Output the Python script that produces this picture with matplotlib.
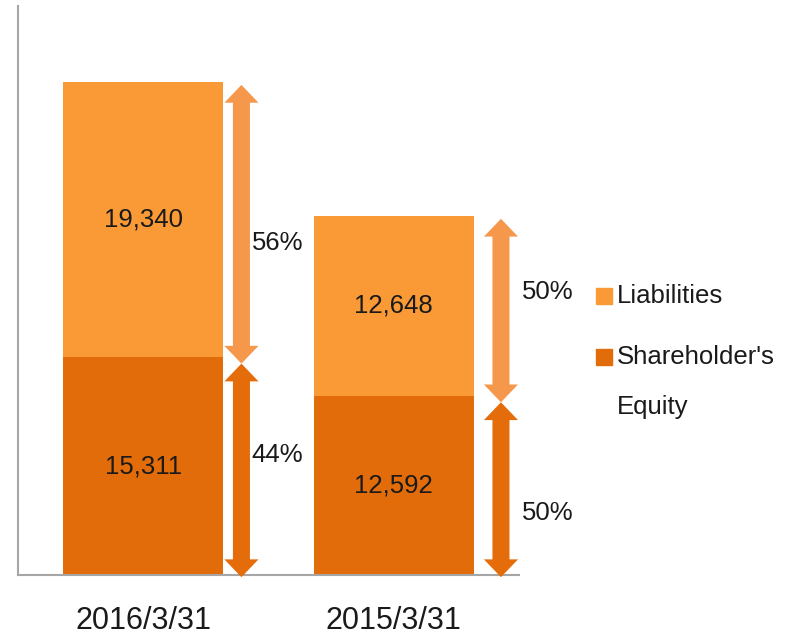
import matplotlib
matplotlib.use("Agg")
import matplotlib.pyplot as plt
import matplotlib.patches as mpatches

plt.rcParams['font.family'] = ['Liberation Sans', 'DejaVu Sans']

# data
dates = ['2016/3/31', '2015/3/31']
equity = [15311, 12592]
liabilities = [19340, 12648]
pct_liab = ['56%', '50%']
pct_equity = ['44%', '50%']

# colours
c_liab = '#FA9A36'
c_equity = '#E36C0A'
c_arrow_liab = '#F5984C'
c_arrow_equity = '#E46C0A'

fig = plt.figure(figsize=(7.92, 6.37), dpi=100)
ax = fig.add_axes([0.0227, 0.0973, 0.6326, 0.8933])

x = range(len(dates))
ax.bar(x, equity, width=0.64, color=c_equity)
ax.bar(x, liabilities, width=0.64, bottom=equity, color=c_liab)

# value labels in the middle of each segment
for i in x:
    ax.text(i, equity[i] / 2, f'{equity[i]:,}', ha='center', va='center',
            fontsize=18.5, color='#1a1a1a')
    ax.text(i, equity[i] + liabilities[i] / 2, f'{liabilities[i]:,}',
            ha='center', va='center', fontsize=18.5, color='#1a1a1a')

# double headed arrows next to each bar
arrow_x = [0.392, 1.428]
label_x = [0.536, 1.616]
liab_frac = [0.415, 0.58]
equity_frac = [0.55, 0.346]
shaft_w = 0.068
head_w = 0.136
head_l = 1250


def double_arrow(xc, y0, y1, color):
    # one polygon, heads at both ends
    s, h = shaft_w / 2, head_w / 2
    pts = [(xc, y1), (xc + h, y1 - head_l), (xc + s, y1 - head_l),
           (xc + s, y0 + head_l), (xc + h, y0 + head_l), (xc, y0),
           (xc - h, y0 + head_l), (xc - s, y0 + head_l),
           (xc - s, y1 - head_l), (xc - h, y1 - head_l)]
    ax.add_patch(mpatches.Polygon(pts, closed=True, color=color, lw=0,
                                  zorder=3, clip_on=False))


for i in x:
    total = equity[i] + liabilities[i]
    double_arrow(arrow_x[i], equity[i] - 450, total - 200, c_arrow_liab)
    double_arrow(arrow_x[i], -150, equity[i] - 450, c_arrow_equity)
    ax.text(label_x[i], equity[i] + liabilities[i] * liab_frac[i], pct_liab[i],
            ha='center', va='center', fontsize=18.5, color='#1a1a1a')
    ax.text(label_x[i], equity[i] * equity_frac[i], pct_equity[i],
            ha='center', va='center', fontsize=18.5, color='#1a1a1a')

ax.set_xlim(-0.5, 1.5)
ax.set_ylim(0, 40000)
ax.set_xticks(list(x))
ax.set_xticklabels(dates, fontsize=22, color='#1a1a1a')
ax.tick_params(axis='x', length=0, pad=22)
ax.set_yticks([])
for s in ['top', 'right']:
    ax.spines[s].set_visible(False)
for s in ['left', 'bottom']:
    ax.spines[s].set_color('#A6A6A6')
    ax.spines[s].set_linewidth(1.5)

# legend drawn by hand
fig.patches.append(mpatches.Rectangle((596 / 792, 1 - 304 / 637), 16 / 792, 16 / 637,
                                      transform=fig.transFigure, color=c_liab))
fig.patches.append(mpatches.Rectangle((596 / 792, 1 - 365 / 637), 16 / 792, 16 / 637,
                                      transform=fig.transFigure, color=c_equity))
fig.text(617 / 792, 1 - 296 / 637, 'Liabilities', va='center', fontsize=18.5, color='#1a1a1a')
fig.text(617 / 792, 1 - 357 / 637, "Shareholder's", va='center', fontsize=18.5, color='#1a1a1a')
fig.text(617 / 792, 1 - 407 / 637, 'Equity', va='center', fontsize=18.5, color='#1a1a1a')

fig.savefig('out.png', dpi=100)
